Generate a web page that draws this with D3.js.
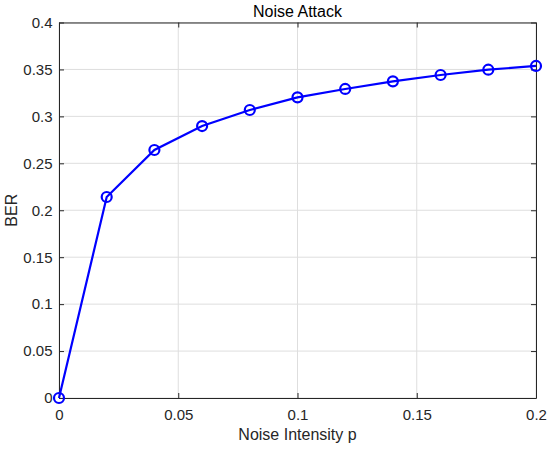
<!DOCTYPE html>
<html><head><meta charset="utf-8">
<script src="https://cdn.jsdelivr.net/npm/d3@7"></script>
<style>body{margin:0;background:#fff}svg{display:block}text{font-family:"Liberation Sans",Arial,sans-serif}</style>
</head><body><svg id="c" width="550" height="449"></svg>
<script>
const pValues = [0, 0.02, 0.04, 0.06, 0.08, 0.10, 0.12, 0.14, 0.16, 0.18, 0.20];
const berValues = [0, 0.2141, 0.2642, 0.2897, 0.3068, 0.3203, 0.3292, 0.3373, 0.3441, 0.3497, 0.3537];
const xTicks = [0, 0.05, 0.1, 0.15, 0.2];
const yTicks = [0, 0.05, 0.1, 0.15, 0.2, 0.25, 0.3, 0.35, 0.4];
const title = "Noise Attack", xLabel = "Noise Intensity p", yLabel = "BER";

const svg = d3.select("#c");
const L = 59, R = 536, T = 22.5, B = 398;
const x = d3.scaleLinear().domain([0, 0.2]).range([L, R]);
const y = d3.scaleLinear().domain([0, 0.4]).range([B, T]);
const fmt = d => String(+d.toFixed(3));

// grid
svg.append("g").selectAll("line").data(xTicks).join("line")
  .attr("x1", d => x(d)).attr("x2", d => x(d)).attr("y1", T).attr("y2", B)
  .attr("stroke", "#dedede").attr("stroke-width", 1);
svg.append("g").selectAll("line").data(yTicks).join("line")
  .attr("x1", L).attr("x2", R).attr("y1", d => y(d)).attr("y2", d => y(d))
  .attr("stroke", "#dedede").attr("stroke-width", 1);

// axes
const ax = svg.append("g").attr("transform", `translate(0,${B})`)
  .call(d3.axisBottom(x).tickValues(xTicks).tickFormat(fmt).tickSizeInner(-5).tickSizeOuter(0).tickPadding(11));
const ay = svg.append("g").attr("transform", `translate(${L},0)`)
  .call(d3.axisLeft(y).tickValues(yTicks).tickFormat(fmt).tickSizeInner(-5).tickSizeOuter(0).tickPadding(6.5));
const axT = svg.append("g").attr("transform", `translate(0,${T})`)
  .call(d3.axisTop(x).tickValues(xTicks).tickFormat("").tickSizeInner(-5).tickSizeOuter(0));
const ayR = svg.append("g").attr("transform", `translate(${R},0)`)
  .call(d3.axisRight(y).tickValues(yTicks).tickFormat("").tickSizeInner(-5).tickSizeOuter(0));
[ax, ay, axT, ayR].forEach(g => {
  g.select(".domain").attr("stroke", "#262626").attr("stroke-width", 1);
  g.selectAll(".tick line").attr("stroke", "#262626");
  g.selectAll(".tick text").attr("fill", "#262626").style("font-size", "15px").style("font-family", '"Liberation Sans",Arial,sans-serif');
});

// line + markers
svg.append("path").datum(pValues.map((p, i) => [p, berValues[i]]))
  .attr("fill", "none").attr("stroke", "#0000ff").attr("stroke-width", 2.2)
  .attr("d", d3.line().x(d => x(d[0])).y(d => y(d[1])));
svg.append("g").selectAll("circle").data(pValues.map((p, i) => [p, berValues[i]])).join("circle")
  .attr("cx", d => x(d[0])).attr("cy", d => y(d[1])).attr("r", 5)
  .attr("fill", "none").attr("stroke", "#0000ff").attr("stroke-width", 2.2);

// labels
svg.append("text").attr("x", (L + R) / 2).attr("y", 16.7).attr("text-anchor", "middle")
  .style("font-size", "16px").attr("fill", "#000").text(title);
svg.append("text").attr("x", (L + R) / 2).attr("y", 439.5).attr("text-anchor", "middle")
  .style("font-size", "16px").attr("fill", "#262626").text(xLabel);
svg.append("text").attr("transform", `translate(17,${(T + B) / 2}) rotate(-90)`).attr("text-anchor", "middle")
  .style("font-size", "16px").attr("fill", "#262626").text(yLabel);
</script></body></html>
